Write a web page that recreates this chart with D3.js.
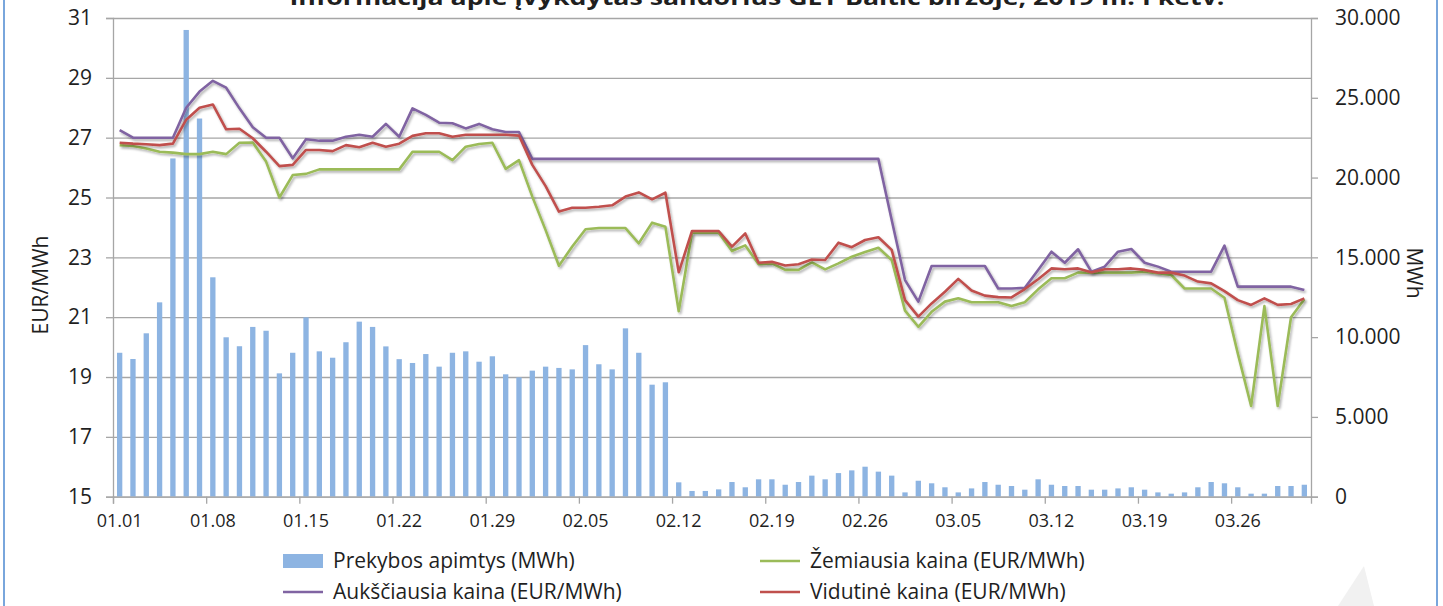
<!DOCTYPE html>
<html>
<head>
<meta charset="utf-8">
<script src="https://cdn.jsdelivr.net/npm/d3@7"></script>
<style>
  body { margin: 0; background: #fff; }
  svg { display: block; }
  text { font-family: "Open Sans", "Noto Sans", sans-serif; fill: #1f1f1f; }
</style>
</head>
<body>
<svg id="chart" width="1443" height="606"></svg>
<script>
// one category per day, 2019 Q1
const days = d3.timeDay.range(new Date(2019, 0, 1), new Date(2019, 3, 1));
const tickLabels = ["01.01", "01.08", "01.15", "01.22", "01.29", "02.05", "02.12",
  "02.19", "02.26", "03.05", "03.12", "03.19", "03.26"];
const priceTicks = [15, 17, 19, 21, 23, 25, 27, 29, 31];
const volumeTicks = [0, 5000, 10000, 15000, 20000, 25000, 30000];

// Prekybos apimtys (MWh)
const volume = [
  9020, 8630, 10240, 12180, 21200, 29250, 23700, 13750, 9990, 9430, 10640, 10400, 7730, 9020, 11240, 9110,
  8710, 9680, 10970, 10640, 9420, 8620, 8380, 8940, 8150, 9020, 9110, 8460, 8800, 7670, 7480,
  7900, 8150, 8070, 7980, 9500, 8300, 7980, 10550, 9020, 7020, 7170, 900, 360, 360, 460, 920,
  590, 1090, 1090, 750, 920, 1320, 1090, 1480, 1650, 1880, 1570, 1320,
  270, 1000, 840, 590, 270, 520, 920, 750, 670, 440, 1090, 750, 670, 670, 440, 440,
  520, 590, 440, 270, 190, 270, 590, 920, 840, 590, 190, 190, 670, 670, 750
];
// Žemiausia kaina (EUR/MWh)
const minPrice = [
  26.75, 26.72, 26.64, 26.53, 26.5, 26.45, 26.45, 26.53, 26.45, 26.83, 26.84, 26.2, 25.0, 25.75, 25.79, 25.94,
  25.94, 25.94, 25.94, 25.94, 25.94, 25.94, 26.53, 26.53, 26.53, 26.25, 26.7, 26.79, 26.83, 25.96, 26.25,
  25.03, 23.91, 22.72, 23.36, 23.94, 23.98, 23.98, 23.98, 23.47, 24.16, 24.02, 21.2, 23.82, 23.82, 23.82, 23.21,
  23.4, 22.77, 22.8, 22.58, 22.58, 22.83, 22.6, 22.8, 23.02, 23.18, 23.32, 22.91,
  21.22, 20.68, 21.18, 21.52, 21.63, 21.5, 21.5, 21.5, 21.37, 21.5, 21.93, 22.3, 22.3, 22.49, 22.49, 22.49,
  22.49, 22.49, 22.52, 22.47, 22.41, 21.96, 21.96, 21.96, 21.65, 19.79, 18.03, 21.37, 18.03, 21.0, 21.6
];
// Aukščiausia kaina (EUR/MWh)
const maxPrice = [
  27.25, 27.0, 27.0, 27.0, 27.0, 28.0, 28.54, 28.9, 28.67, 27.98, 27.35, 27.0, 27.0, 26.31, 26.95, 26.9,
  26.9, 27.03, 27.1, 27.03, 27.46, 27.03, 27.98, 27.76, 27.5, 27.48, 27.31, 27.46, 27.28, 27.19, 27.19,
  26.29, 26.29, 26.29, 26.29, 26.29, 26.29, 26.29, 26.29, 26.29, 26.29, 26.29, 26.29, 26.29, 26.29, 26.29, 26.29,
  26.29, 26.29, 26.29, 26.29, 26.29, 26.29, 26.29, 26.29, 26.29, 26.29, 26.29, 24.25,
  22.24, 21.52, 22.71, 22.71, 22.71, 22.71, 22.71, 21.96, 21.96, 21.98, 22.58, 23.19, 22.82, 23.27, 22.52, 22.69,
  23.19, 23.28, 22.82, 22.69, 22.52, 22.52, 22.52, 22.52, 23.39, 22.02, 22.02, 22.02, 22.02, 22.02, 21.91
];
// Vidutinė kaina (EUR/MWh)
const avgPrice = [
  26.83, 26.8, 26.78, 26.75, 26.8, 27.6, 28.0, 28.11, 27.28, 27.3, 26.98, 26.53, 26.05, 26.09, 26.59, 26.59,
  26.55, 26.75, 26.68, 26.83, 26.7, 26.8, 27.06, 27.15, 27.15, 27.03, 27.1, 27.1, 27.1, 27.1, 27.07,
  26.09, 25.38, 24.53, 24.66, 24.66, 24.69, 24.74, 25.03, 25.17, 24.94, 25.16, 22.5, 23.88, 23.88, 23.88, 23.36,
  23.8, 22.82, 22.85, 22.73, 22.77, 22.93, 22.91, 23.49, 23.34, 23.58, 23.67, 23.25,
  21.57, 21.02, 21.46, 21.85, 22.28, 21.89, 21.72, 21.67, 21.66, 21.94, 22.27, 22.63, 22.6, 22.63, 22.5, 22.6,
  22.6, 22.63, 22.58, 22.49, 22.49, 22.39, 22.19, 22.13, 21.87, 21.57, 21.41, 21.63, 21.41, 21.44, 21.63
];

const svg = d3.select("#chart");
const plot = { left: 113, right: 1311, top: 18, bottom: 496.7 };
const gridColor = "#a6a6a6";

const x = d3.scaleBand().domain(d3.range(days.length)).range([plot.left, plot.right])
  .paddingInner(0.6).paddingOuter(0.3);
const xEdge = d3.scaleLinear().domain([0, days.length]).range([plot.left, plot.right]);
const yL = d3.scaleLinear().domain([15, 31]).range([plot.bottom, plot.top]);
const yR = d3.scaleLinear().domain([0, 30000]).range([plot.bottom, plot.top]);

// shadow like the excel lines
const defs = svg.append("defs");
defs.append("filter").attr("id", "shadow")
  .attr("x", "-5%").attr("y", "-20%").attr("width", "110%").attr("height", "140%")
  .append("feDropShadow")
  .attr("dx", 1.5).attr("dy", 2).attr("stdDeviation", 1.2)
  .attr("flood-color", "#000").attr("flood-opacity", 0.3);

// faint page curl, bottom right
svg.append("path")
  .attr("d", "M1338,606 L1364,566 L1374,606 Z")
  .attr("fill", "#f1f1f1");

// title, cut off at the top like in the original
svg.append("text")
  .attr("x", 757).attr("y", 5)
  .attr("text-anchor", "middle")
  .attr("font-size", 22).attr("font-weight", "bold")
  .attr("textLength", 935).attr("lengthAdjust", "spacingAndGlyphs")
  .text("Informacija apie įvykdytas sandorius GET Baltic biržoje, 2019 m. I ketv.");

// gridlines
svg.append("g")
  .attr("transform", `translate(${plot.left},0)`)
  .call(d3.axisLeft(yL).tickValues(priceTicks).tickSize(-(plot.right - plot.left)).tickFormat(""))
  .call(g => g.select(".domain").remove())
  .call(g => g.selectAll("line").attr("stroke", gridColor).attr("stroke-width", 1.3));

// bars
svg.append("g")
  .selectAll("rect")
  .data(volume)
  .join("rect")
  .attr("x", (d, i) => x(i))
  .attr("width", x.bandwidth())
  .attr("y", d => yR(d))
  .attr("height", d => plot.bottom - yR(d))
  .attr("fill", "#8db4e2");

// left axis
svg.append("g")
  .attr("transform", `translate(${plot.left},0)`)
  .call(d3.axisLeft(yL).tickValues(priceTicks).tickSize(7).tickPadding(14))
  .call(g => g.select(".domain").attr("stroke", gridColor).attr("stroke-width", 1.3))
  .call(g => g.selectAll("line").attr("stroke", gridColor).attr("stroke-width", 1.3))
  .call(g => g.selectAll("text").attr("font-size", 21).attr("font-family", null).attr("fill", null));

// right axis
svg.append("g")
  .attr("transform", `translate(${plot.right},0)`)
  .call(d3.axisRight(yR).tickValues(volumeTicks).tickSize(7).tickPadding(17)
    .tickFormat(d => d3.format(",")(d).replace(",", ".")))
  .call(g => g.select(".domain").attr("stroke", gridColor).attr("stroke-width", 1.3))
  .call(g => g.selectAll("line").attr("stroke", gridColor).attr("stroke-width", 1.3))
  .call(g => g.selectAll("text").attr("font-size", 21).attr("font-family", null).attr("fill", null));

// bottom axis: tick marks on week boundaries, labels on the day
svg.append("g")
  .attr("transform", `translate(0,${plot.bottom})`)
  .call(d3.axisBottom(xEdge).tickValues(d3.range(0, days.length, 7)).tickSize(7).tickFormat(""))
  .call(g => g.select(".domain").attr("stroke", gridColor).attr("stroke-width", 1.3))
  .call(g => g.selectAll("line").attr("stroke", gridColor).attr("stroke-width", 1.3));

svg.append("g")
  .attr("transform", `translate(0,${plot.bottom})`)
  .call(d3.axisBottom(x).tickValues(d3.range(0, days.length, 7)).tickSize(0).tickPadding(18)
    .tickFormat((d, i) => tickLabels[i]))
  .call(g => g.select(".domain").remove())
  .call(g => g.selectAll("text").attr("font-size", 18).attr("font-family", null).attr("fill", null));

// price lines
const cx = i => x(i) + x.bandwidth() / 2;
const line = d3.line().x((d, i) => cx(i)).y(d => yL(d));
const series = [
  { values: minPrice, color: "#9bbb59" },
  { values: maxPrice, color: "#8064a2" },
  { values: avgPrice, color: "#c0504d" }
];
svg.append("g")
  .selectAll("path")
  .data(series)
  .join("path")
  .attr("d", d => line(d.values))
  .attr("fill", "none")
  .attr("stroke", d => d.color)
  .attr("stroke-width", 2.6)
  .attr("stroke-linejoin", "round")
  .attr("filter", "url(#shadow)");

// axis titles
svg.append("text")
  .attr("transform", "translate(41,285) rotate(-90)")
  .attr("text-anchor", "middle").attr("dy", "0.35em").attr("font-size", 21)
  .text("EUR/MWh");
svg.append("text")
  .attr("transform", "translate(1414,273) rotate(90)")
  .attr("text-anchor", "middle").attr("dy", "0.35em").attr("font-size", 21)
  .text("MWh");

// legend
const legendItems = [
  { label: "Prekybos apimtys (MWh)", color: "#8db4e2", bar: true, col: 0, row: 0 },
  { label: "Žemiausia kaina (EUR/MWh)", color: "#9bbb59", col: 1, row: 0 },
  { label: "Aukščiausia kaina (EUR/MWh)", color: "#8064a2", col: 0, row: 1 },
  { label: "Vidutinė kaina (EUR/MWh)", color: "#c0504d", col: 1, row: 1 }
];
const legend = svg.append("g")
  .selectAll("g")
  .data(legendItems)
  .join("g")
  .attr("transform", d => `translate(${283 + d.col * 477},${561 + d.row * 31})`);
legend.filter(d => d.bar).append("rect")
  .attr("x", 0).attr("y", -7).attr("width", 40).attr("height", 14)
  .attr("fill", d => d.color);
legend.filter(d => !d.bar).append("line")
  .attr("x1", 0).attr("x2", 40)
  .attr("stroke", d => d.color).attr("stroke-width", 2.6);
legend.append("text")
  .attr("x", 50).attr("dy", "0.35em")
  .attr("font-size", 21)
  .text(d => d.label);

// chart frame
svg.append("rect")
  .attr("x", 4).attr("y", -20).attr("width", 1433).attr("height", 660)
  .attr("rx", 8).attr("fill", "none")
  .attr("stroke", "#79a6dc").attr("stroke-width", 2);
</script>
</body>
</html>
